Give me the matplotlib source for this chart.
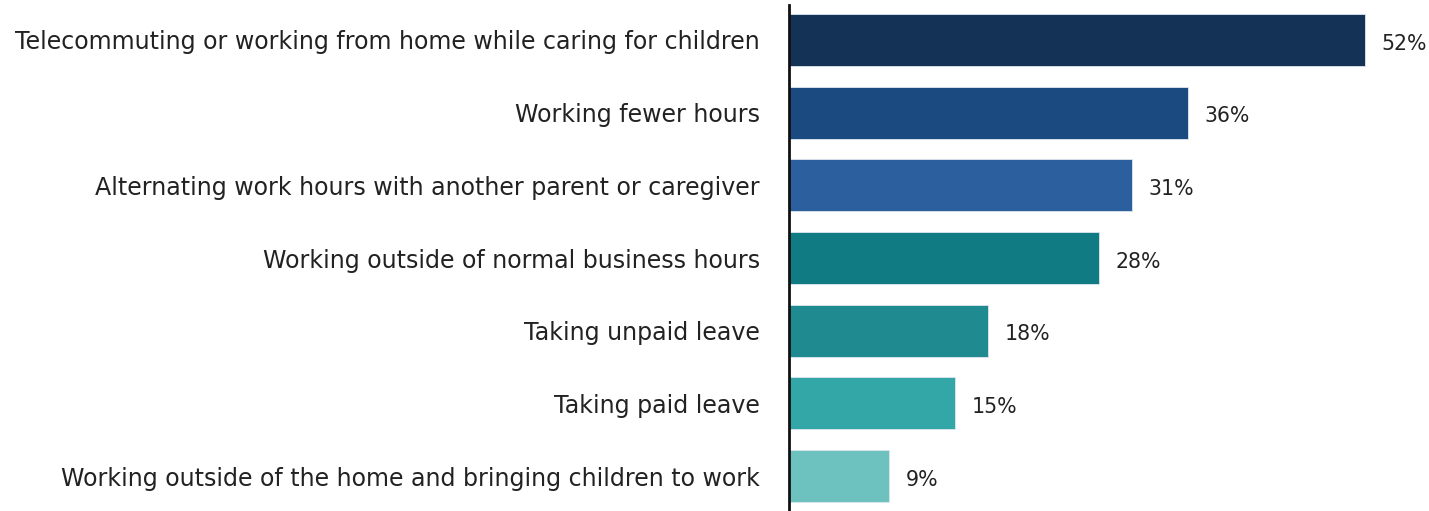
import matplotlib
matplotlib.use("Agg")
import matplotlib.pyplot as plt

categories = [
    "Telecommuting or working from home while caring for children",
    "Working fewer hours",
    "Alternating work hours with another parent or caregiver",
    "Working outside of normal business hours",
    "Taking unpaid leave",
    "Taking paid leave",
    "Working outside of the home and bringing children to work",
]
values = [52, 36, 31, 28, 18, 15, 9]
colors = ["#143256", "#1a4a80", "#2b5f9e", "#117b84", "#1f8b90", "#33a6a8", "#6dc2c0"]

plt.rcParams['font.family'] = ['DejaVu Sans']

fig = plt.figure(figsize=(14.29, 5.11), dpi=100)
ax = fig.add_axes([789 / 1429, 0, 640 / 1429, 506 / 511])

y = list(range(len(categories)))
ax.barh(y, values, height=0.715, color=colors, edgecolor="#dde6ee", linewidth=0.6)

# percentage labels right of each bar
for yi, v in zip(y, values):
    ax.text(v + 1.5, yi + 0.05, f"{v}%", va="center", ha="left", fontsize=14.8, color="#222222")

ax.set_xlim(0, 57.8)
ax.set_ylim(6.48, -0.48)
ax.set_yticks(y)
ax.set_yticklabels(categories, fontsize=17.1, color="#222222")
ax.tick_params(axis="y", length=0, pad=21)
ax.set_xticks([])
for s in ["top", "right", "bottom"]:
    ax.spines[s].set_visible(False)
ax.spines["left"].set_linewidth(2)
ax.spines["left"].set_color("#111111")

fig.savefig("out.png", dpi=100)
